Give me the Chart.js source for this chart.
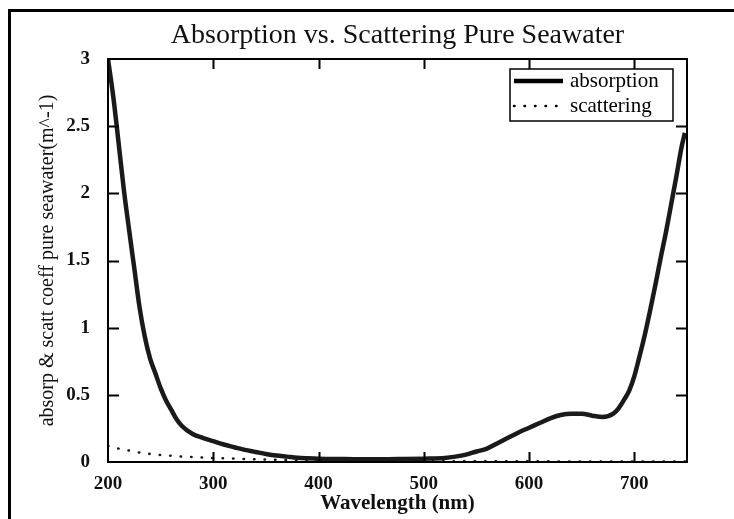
<!DOCTYPE html>
<html>
<head>
<meta charset="utf-8">
<script src="https://cdn.jsdelivr.net/npm/chart.js@4.4.1/dist/chart.umd.min.js"></script>
<style>
  html, body { margin: 0; padding: 0; background: #fff; }
  #wrap { width: 734px; height: 519px; }
</style>
</head>
<body>
<div id="wrap"><canvas id="water-chart" width="734" height="519"></canvas></div>
<script>
var ctx = document.getElementById('water-chart').getContext('2d');

var serif = "'Liberation Serif', 'Times New Roman', serif";

// absorption of pure seawater
var absWave = [200, 205, 210, 215, 220, 225, 230, 235, 240, 245, 250, 255, 260, 265, 270, 280, 290, 300, 310, 320, 330, 340, 350, 360, 370, 380, 390, 400, 420, 440, 460, 480, 500, 520, 530, 540, 550, 560, 570, 580, 590, 600, 610, 620, 630, 640, 650, 660, 670, 680, 685, 690, 695, 700, 705, 710, 715, 720, 725, 730, 735, 740, 745, 748];
var absVal = [3.0, 2.72, 2.38, 2.03, 1.73, 1.44, 1.15, 0.93, 0.77, 0.66, 0.55, 0.46, 0.39, 0.32, 0.27, 0.21, 0.18, 0.155, 0.13, 0.11, 0.09, 0.075, 0.06, 0.048, 0.04, 0.032, 0.028, 0.025, 0.022, 0.02, 0.02, 0.022, 0.025, 0.03, 0.04, 0.055, 0.078, 0.1, 0.14, 0.18, 0.22, 0.255, 0.29, 0.325, 0.35, 0.36, 0.36, 0.345, 0.335, 0.36, 0.4, 0.46, 0.53, 0.64, 0.79, 0.95, 1.13, 1.32, 1.52, 1.71, 1.92, 2.13, 2.35, 2.45];

// scattering
var scatWave = [200, 210, 220, 230, 240, 250, 260, 270, 280, 290, 300, 320, 340, 360, 380, 400, 450, 500, 550, 600, 650, 700, 750];
var scatVal = [0.12, 0.1, 0.085, 0.07, 0.06, 0.052, 0.046, 0.041, 0.037, 0.033, 0.03, 0.025, 0.02, 0.016, 0.013, 0.011, 0.008, 0.006, 0.005, 0.005, 0.004, 0.004, 0.004];

var xTickVals = [200, 300, 400, 500, 600, 700];
var yTickVals = [0, 0.5, 1, 1.5, 2, 2.5, 3];

function pts(xs, ys) {
  return xs.map(function (v, i) { return { x: v, y: ys[i] }; });
}

// box around the plot, inward ticks, outer frame and the legend
var framePlugin = {
  id: 'frame',
  beforeDraw: function (chart) {
    var c = chart.ctx;
    c.save();
    c.fillStyle = '#fff';
    c.fillRect(0, 0, chart.width, chart.height);
    c.strokeStyle = '#000';
    c.lineWidth = 3;
    c.beginPath();
    c.moveTo(9.5, chart.height);
    c.lineTo(9.5, 10.5);
    c.lineTo(chart.width, 10.5);
    c.stroke();
    c.restore();
  },
  afterDatasetsDraw: function (chart) {
    var c = chart.ctx, a = chart.chartArea, x = chart.scales.x, y = chart.scales.y;
    c.save();
    c.strokeStyle = '#000';
    c.lineWidth = 2;
    c.strokeRect(a.left, a.top, a.right - a.left, a.bottom - a.top);
    c.beginPath();
    xTickVals.forEach(function (v) {
      if (v <= x.min || v >= x.max) return;
      var px = Math.round(x.getPixelForValue(v)) + 0.5;
      c.moveTo(px, a.bottom); c.lineTo(px, a.bottom - 10);
      c.moveTo(px, a.top); c.lineTo(px, a.top + 10);
    });
    yTickVals.forEach(function (v) {
      if (v <= y.min || v >= y.max) return;
      var py = Math.round(y.getPixelForValue(v)) + 0.5;
      c.moveTo(a.left, py); c.lineTo(a.left + 11, py);
      c.moveTo(a.right, py); c.lineTo(a.right - 11, py);
    });
    c.stroke();

    // legend box in the upper right corner
    var lx = 510, ly = 69, lw = 163, lh = 52;
    c.fillStyle = '#fff';
    c.fillRect(lx, ly, lw, lh);
    c.lineWidth = 1.5;
    c.strokeRect(lx, ly, lw, lh);
    c.font = '21px ' + serif;
    c.textBaseline = 'middle';
    c.fillStyle = '#000';
    chart.data.datasets.forEach(function (ds, i) {
      var yy = ly + 12 + i * 25;
      c.save();
      c.lineWidth = ds.borderWidth;
      c.lineCap = ds.borderCapStyle || 'butt';
      c.setLineDash(ds.borderDash || []);
      c.beginPath();
      c.moveTo(lx + 4, yy);
      c.lineTo(lx + 53, yy);
      c.stroke();
      c.restore();
      c.fillText(ds.label, lx + 60, yy);
    });
    c.restore();
  }
};

var myChart = new Chart(ctx, {
  type: 'line',
  data: {
    datasets: [{
      label: 'absorption',
      data: pts(absWave, absVal),
      borderColor: '#1a1a1a',
      borderWidth: 4.5,
      pointRadius: 0,
      cubicInterpolationMode: 'monotone'
    },
    {
      label: 'scattering',
      data: pts(scatWave, scatVal),
      borderColor: '#1a1a1a',
      borderWidth: 2.5,
      borderDash: [0.5, 10],
      borderCapStyle: 'round',
      pointRadius: 0,
      cubicInterpolationMode: 'monotone'
    }]
  },
  options: {
    responsive: false,
    animation: false,
    layout: { padding: { left: 0, right: 47, top: 0, bottom: 0 } },
    plugins: {
      legend: { display: false },
      tooltip: { enabled: false }
    },
    scales: {
      x: {
        type: 'linear',
        position: 'bottom',
        min: 200,
        max: 750,
        afterBuildTicks: function (s) { s.ticks = xTickVals.map(function (v) { return { value: v }; }); },
        ticks: { color: '#111', font: { family: serif, size: 19, weight: 'bold' }, padding: 3, maxRotation: 0, autoSkip: false,
                 callback: function (v) { return String(v); } },
        grid: { display: false },
        border: { display: false },
        title: { display: true, text: 'Wavelength (nm)', color: '#111', font: { family: serif, size: 21, weight: 'bold' }, padding: { top: 0, bottom: 3 } },
        afterFit: function (s) { s.height = 57; }
      },
      top: {
        type: 'linear',
        position: 'top',
        min: 200,
        max: 750,
        ticks: { display: false },
        grid: { display: false },
        border: { display: false },
        title: { display: true, text: 'Absorption vs. Scattering Pure Seawater', color: '#111', font: { family: serif, size: 28 }, padding: { top: 19, bottom: 0 } },
        afterFit: function (s) { s.height = 59; }
      },
      y: {
        min: 0,
        max: 3,
        afterBuildTicks: function (s) { s.ticks = yTickVals.map(function (v) { return { value: v }; }); },
        ticks: { color: '#111', font: { family: serif, size: 19, weight: 'bold' }, padding: 10,
                 callback: function (v) { return String(v); } },
        grid: { display: false },
        border: { display: false },
        title: { display: true, text: 'absorp & scatt coeff pure seawater(m^-1)', color: '#111', font: { family: serif, size: 20 }, padding: { top: 36, bottom: 0 } },
        afterFit: function (s) { s.width = 108; }
      }
    }
  },
  plugins: [framePlugin]
});
</script>
</body>
</html>
